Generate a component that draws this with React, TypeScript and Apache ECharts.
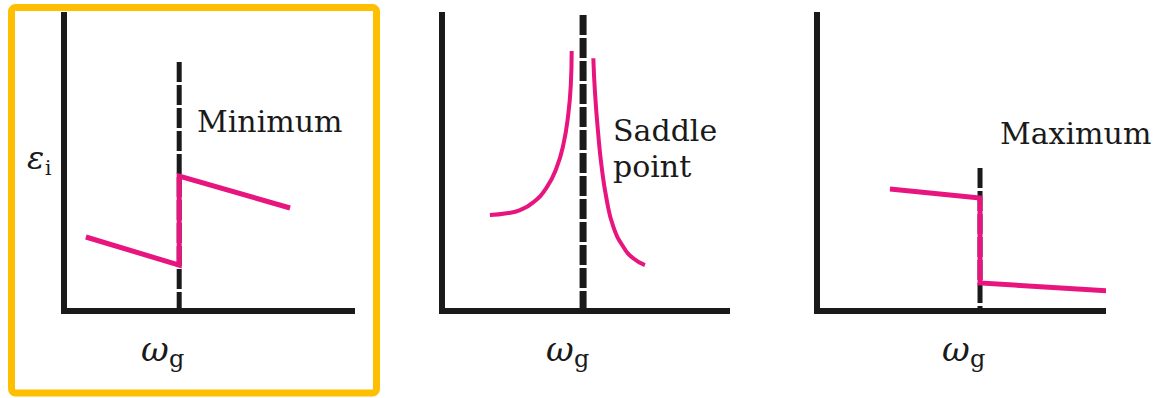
import React, { useEffect, useRef } from "react";
import * as echarts from "echarts";

// Panel 1: "Minimum" — critical point with a step up in the imaginary part
const minDivider = [[4.0, 8.41], [4.0, 0]];
const minCurve = [[0.76, 2.5], [4.0, 1.55], [4.0, 4.56], [7.85, 3.48]];

// Panel 2: "Saddle point" — divergence on both sides of the gap frequency
const saddleDivider = [[4.95, 10], [4.95, 0]];
const saddleLeft = [
  [1.68, 3.24], [2.27, 3.3], [2.74, 3.41], [3.2, 3.67], [3.67, 4.17],
  [4.02, 4.84], [4.26, 5.63], [4.43, 6.64], [4.52, 7.65], [4.55, 8.78],
];
const saddleRight = [
  [5.31, 8.54], [5.37, 7.35], [5.48, 6.0], [5.6, 4.88], [5.78, 3.75],
  [6.01, 2.85], [6.36, 2.17], [6.71, 1.78], [7.12, 1.55],
];

// Panel 3: "Maximum" — step down at the gap frequency
const maxDivider = [[5.7, 4.83], [5.7, 0]];
const maxCurve = [[2.55, 4.12], [5.7, 3.82], [5.7, 0.95], [10.77, 0.64]];

const panelTitles = ["Minimum", "Saddle", "point", "Maximum"];
const xAxisSymbol = "ω";
const xAxisSub = "g";
const yAxisSymbol = "ε";
const yAxisSub = "i";

const FAMILY = "DejaVu Serif";
const INK = "#1a1a1a";
const PINK = "#e8157f";

function axisPair(i: number) {
  const common = {
    type: "value" as const,
    min: 0,
    max: 10,
    gridIndex: i,
    axisLine: { show: true, onZero: false, lineStyle: { color: INK, width: 6, cap: "square" } },
    axisTick: { show: false },
    axisLabel: { show: false },
    splitLine: { show: false },
  };
  return { x: { ...common }, y: { ...common } };
}

function lineSeries(i: number, data: number[][], color: string, width: number, dashed: boolean, smooth = false) {
  return {
    type: "line",
    xAxisIndex: i,
    yAxisIndex: i,
    data,
    smooth,
    showSymbol: false,
    symbol: "none",
    clip: false,
    silent: true,
    z: dashed ? 2 : 3,
    lineStyle: { color, width, type: dashed ? [20, 3] : "solid", cap: "butt", join: "miter" },
  };
}

// free-standing text placed by its left edge and centre line
function label(text: string, left: number, cy: number, size: number, italic = false) {
  return {
    text,
    left,
    top: cy - size / 2,
    padding: 0,
    textStyle: {
      fontFamily: FAMILY,
      fontSize: size,
      fontStyle: italic ? "italic" : "normal",
      fontWeight: "normal",
      color: INK,
      lineHeight: size,
    },
  };
}

function omegaLabel(x: number) {
  return [label(xAxisSymbol, x, 349, 34, true), label(xAxisSub, x + 28, 359, 24)];
}

export default function App() {
  const ref = useRef<HTMLDivElement>(null);

  useEffect(() => {
    if (!ref.current) return;
    const chart = echarts.init(ref.current, null, { renderer: "svg" });
    const axes = [0, 1, 2].map(axisPair);

    chart.setOption({
      animation: false,
      backgroundColor: "#ffffff",
      title: [
        label(panelTitles[0], 197, 121, 30),
        label(panelTitles[1], 613, 130, 30),
        label(panelTitles[2], 613, 166, 30),
        label(panelTitles[3], 1000, 133, 30),
        ...omegaLabel(141),
        ...omegaLabel(546),
        ...omegaLabel(942),
        label(yAxisSymbol, 27, 158, 32, true),
        label(yAxisSub, 45, 168, 20),
      ],
      grid: [
        { left: 64, top: 15, width: 288, height: 296 },
        { left: 442, top: 15, width: 285, height: 296 },
        { left: 817, top: 15, width: 286, height: 296 },
      ],
      xAxis: axes.map((a) => a.x),
      yAxis: axes.map((a) => a.y),
      series: [
        lineSeries(0, minDivider, INK, 5, true),
        lineSeries(0, minCurve, PINK, 5, false),
        lineSeries(1, saddleDivider, INK, 7, true),
        lineSeries(1, saddleLeft, PINK, 4, false, true),
        lineSeries(1, saddleRight, PINK, 4, false, true),
        lineSeries(2, maxDivider, INK, 5, true),
        lineSeries(2, maxCurve, PINK, 5, false),
      ],
      graphic: [
        {
          type: "rect",
          silent: true,
          shape: { x: 11.5, y: 7.5, width: 365, height: 385.5, r: 4 },
          style: { fill: "none", stroke: "#fdbf00", lineWidth: 7 },
        },
      ],
    });

    return () => chart.dispose();
  }, []);

  return (
    <div
      ref={ref}
      style={{ position: "fixed", left: 0, top: 0, width: 1155, height: 398, background: "#fff" }}
    />
  );
}
